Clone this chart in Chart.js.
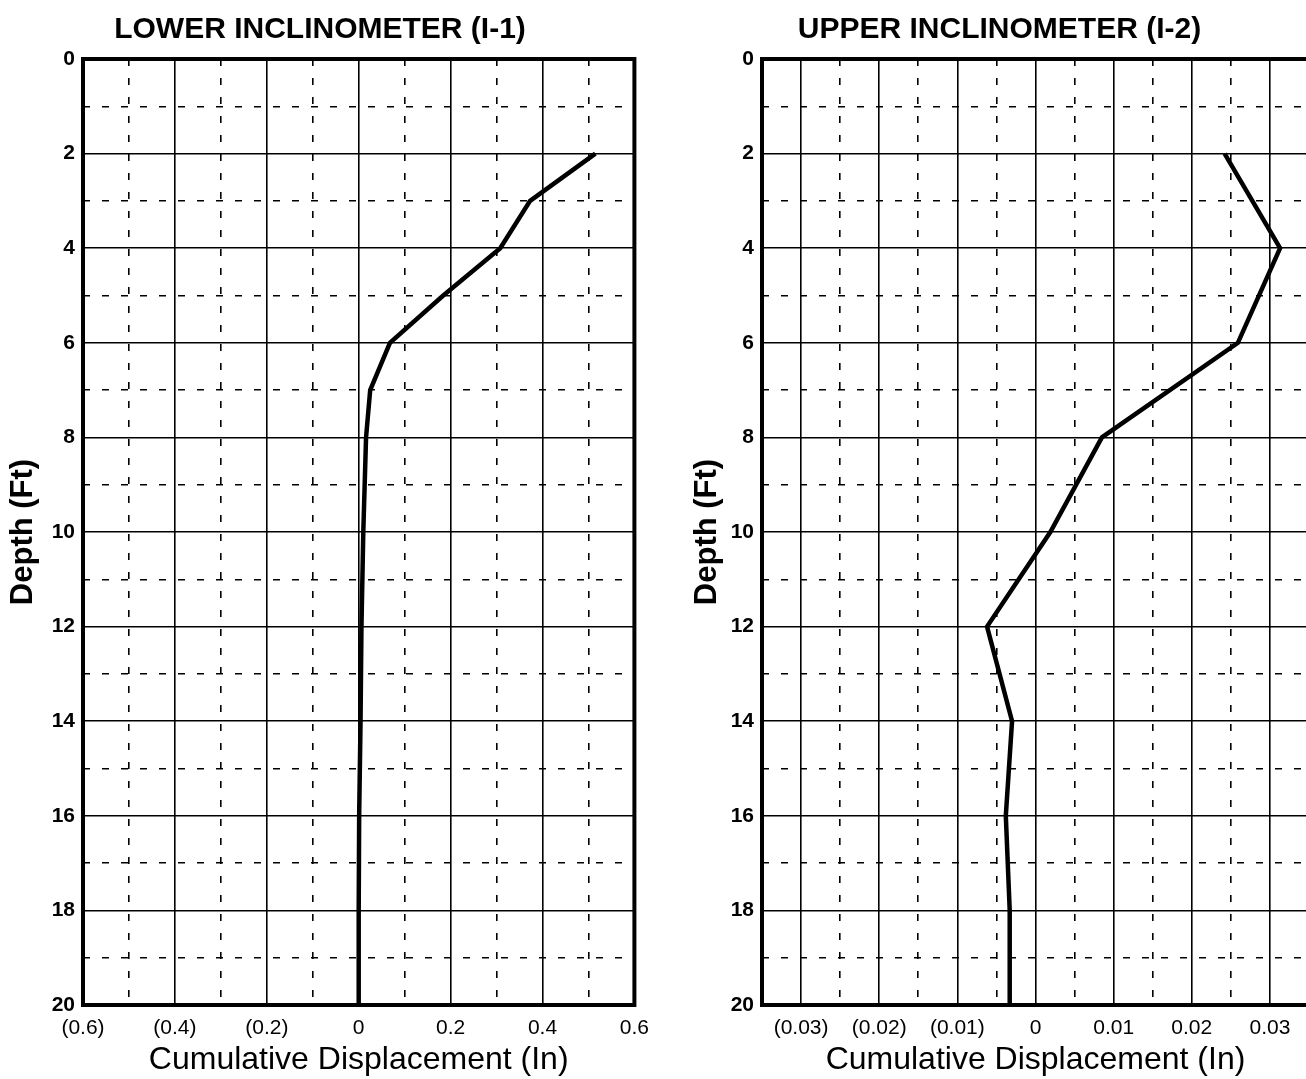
<!DOCTYPE html>
<html>
<head>
<meta charset="utf-8">
<title>Inclinometer Profiles</title>
<script src="https://cdn.jsdelivr.net/npm/chart.js@4.4.1/dist/chart.umd.min.js"></script>
<style>
  html, body { margin: 0; padding: 0; background: #fff; overflow: hidden; }
  .panel { position: absolute; top: 0; width: 660px; height: 1079px; }
  #leftPanel { left: 0; }
  #rightPanel { left: 660px; }
</style>
</head>
<body>
<div class="panel" id="leftPanel"><canvas id="lowerChart"></canvas></div>
<div class="panel" id="rightPanel"><canvas id="upperChart"></canvas></div>
<script>
// Lower inclinometer (I-1)
const lowerDepths = [2, 3, 4, 5, 6, 7, 8, 10, 12, 14, 16, 18, 20];
const lowerDisplacement = [0.515, 0.373, 0.308, 0.184, 0.068, 0.025, 0.016, 0.01, 0.006, 0.004, 0.001, 0, 0];

// Upper inclinometer (I-2)
const upperDepths = [2, 4, 6, 8, 10, 12, 14, 16, 18, 20];
const upperDisplacement = [0.0242, 0.0313, 0.0259, 0.0085, 0.0019, -0.0062, -0.003, -0.0038, -0.0033, -0.0033];

// Axis settings
const depthRange = [0, 20];
const lowerRange = [-0.6, 0.6];
const lowerStep = 0.1;
const upperRange = [-0.035, 0.035];
const upperStep = 0.005;

const fontFamily = "'Liberation Sans', Arial, Helvetica, sans-serif";
const dashPattern = [7, 12];

// thick black frame round the plot area
const framePlugin = {
  id: 'frame',
  afterDraw(chart) {
    const a = chart.chartArea;
    const ctx = chart.ctx;
    ctx.save();
    ctx.strokeStyle = '#000';
    ctx.lineWidth = 4;
    ctx.strokeRect(a.left, a.top, a.right - a.left, a.bottom - a.top);
    ctx.restore();
  }
};

function formatLabel(value, decimals) {
  if (Math.abs(value) < 1e-9) return '0';
  if (value < 0) return '(' + (-value).toFixed(decimals) + ')';
  return value.toFixed(decimals);
}

function makeChart(canvasId, title, depths, values, xRange, xStep, decimals, pad, yWidth) {
  const points = depths.map((d, i) => ({ x: values[i], y: d }));
  // a tick is minor (dashed, no label) when it is an odd multiple of the step
  const isMinorX = v => Math.round(v / xStep) % 2 !== 0;
  const isMinorY = v => Math.round(v) % 2 !== 0;

  return new Chart(document.getElementById(canvasId), {
    type: 'scatter',
    data: {
      datasets: [{
        data: points,
        showLine: true,
        borderColor: '#000',
        borderWidth: 4.5,
        pointRadius: 0,
        tension: 0
      }]
    },
    options: {
      responsive: true,
      maintainAspectRatio: false,
      animation: false,
      layout: { padding: { left: pad.left, right: pad.right, top: 0, bottom: 0 } },
      plugins: {
        legend: { display: false },
        tooltip: { enabled: false },
        title: {
          display: true,
          text: title,
          color: '#000',
          font: { family: fontFamily, size: 30, weight: 'bold' },
          padding: { top: 12, bottom: 11 }
        }
      },
      scales: {
        x: {
          type: 'linear',
          min: xRange[0],
          max: xRange[1],
          afterFit: scale => { scale.height = 74; },
          ticks: {
            stepSize: xStep,
            autoSkip: false,
            maxRotation: 0,
            padding: 11,
            color: '#000',
            font: { family: fontFamily, size: 21 },
            callback: value => isMinorX(value) ? '' : formatLabel(value, decimals)
          },
          grid: { color: '#000', lineWidth: 1.6, drawTicks: false },
          border: {
            display: false,
            dash: ctx => (ctx.tick && isMinorX(ctx.tick.value) ? dashPattern : [])
          },
          title: {
            display: true,
            text: 'Cumulative Displacement (In)',
            color: '#000',
            font: { family: fontFamily, size: 32 },
            padding: { top: 0, bottom: 0 }
          }
        },
        y: {
          type: 'linear',
          reverse: true,
          min: depthRange[0],
          max: depthRange[1],
          afterFit: scale => { scale.width = yWidth; },
          ticks: {
            stepSize: 1,
            padding: 8,
            color: '#000',
            font: { family: fontFamily, size: 21, weight: 'bold' },
            callback: value => (isMinorY(value) ? '' : String(value))
          },
          grid: { color: '#000', lineWidth: 1.6, drawTicks: false },
          border: {
            display: false,
            dash: ctx => (ctx.tick && isMinorY(ctx.tick.value) ? dashPattern : [])
          },
          title: {
            display: true,
            text: 'Depth (Ft)',
            color: '#000',
            font: { family: fontFamily, size: 31, weight: 'bold' },
            padding: { top: 0, bottom: 0 }
          }
        }
      }
    },
    plugins: [framePlugin]
  });
}

makeChart('lowerChart', 'LOWER INCLINOMETER (I-1)', lowerDepths, lowerDisplacement,
  lowerRange, lowerStep, 1, { left: 5, right: 25 }, 78);
makeChart('upperChart', 'UPPER INCLINOMETER (I-2)', upperDepths, upperDisplacement,
  upperRange, upperStep, 2, { left: 29, right: 10 }, 73);
</script>
</body>
</html>
